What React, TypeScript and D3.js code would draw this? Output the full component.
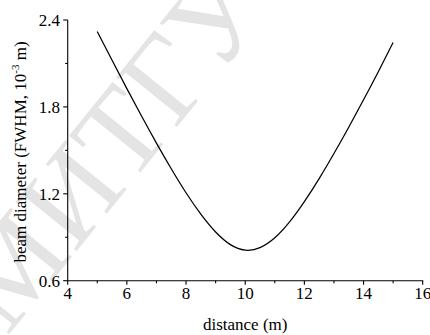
import React from "react";
import * as d3 from "d3";

const distance = [5, 5.5, 6, 6.5, 7, 7.5, 8, 8.5, 9, 9.5, 10, 10.5, 11, 11.5, 12, 12.5, 13, 13.5, 14, 14.5, 15];
const diameter = [2.32, 2.122, 1.926, 1.735, 1.55, 1.373, 1.207, 1.059, 0.936, 0.849, 0.811, 0.828, 0.896, 1.006, 1.146, 1.305, 1.478, 1.66, 1.849, 2.043, 2.245];
const xMajorTicks = [4, 6, 8, 10, 12, 14, 16];
const xMinorTicks = [5, 7, 9, 11, 13, 15];
const yMajorTicks = [0.6, 1.2, 1.8, 2.4];
const yMinorTicks = [0.9, 1.5, 2.1];
const watermark = "МИТГУ К";

const W = 430;
const H = 335;
const FONT = "'Liberation Serif', 'Times New Roman', serif";

export default function App() {
  const x = d3.scaleLinear().domain([4, 16]).range([67.7, 422.7]);
  const y = d3.scaleLinear().domain([0.6, 2.4]).range([280.7, 20]);
  const pts = distance.map((d, i) => [d, diameter[i]] as [number, number]);
  const line = d3
    .line<[number, number]>()
    .x((d) => x(d[0]))
    .y((d) => y(d[1]))
    .curve(d3.curveNatural);
  const x0 = x.range()[0];
  const y0 = y.range()[0];
  return (
    <svg
      width={W}
      height={H}
      style={{ position: "fixed", left: 0, top: 0, background: "#fff" }}
      fontFamily={FONT}
    >
      <rect width={W} height={H} fill="#fff" />
      <text
        transform="translate(7,337) rotate(-51)"
        fontSize={120}
        fill="#e4e4e4"
        fontFamily={FONT}
      >
        {watermark}
      </text>
      <path d={line(pts) || ""} fill="none" stroke="#000" strokeWidth={1.25} />
      <line x1={x0} x2={x.range()[1] + 0.5} y1={y0} y2={y0} stroke="#000" strokeWidth={1.1} />
      <line x1={x0} x2={x0} y1={y0} y2={y.range()[1]} stroke="#000" strokeWidth={1.1} />
      {xMajorTicks.map((t) => (
        <g key={"xm" + t}>
          <line x1={x(t)} x2={x(t)} y1={y0} y2={y0 + 4} stroke="#000" strokeWidth={1.1} />
          <text x={x(t)} y={299} textAnchor="middle" fontSize={17} fill="#000">
            {t}
          </text>
        </g>
      ))}
      {xMinorTicks.map((t) => (
        <line key={"xn" + t} x1={x(t)} x2={x(t)} y1={y0} y2={y0 + 2.5} stroke="#000" strokeWidth={1.1} />
      ))}
      {yMajorTicks.map((t) => (
        <g key={"ym" + t}>
          <line x1={x0 - 4.5} x2={x0} y1={y(t)} y2={y(t)} stroke="#000" strokeWidth={1.1} />
          <text x={60} y={y(t)} dy="0.35em" textAnchor="end" fontSize={17} fill="#000">
            {t.toFixed(1)}
          </text>
        </g>
      ))}
      {yMinorTicks.map((t) => (
        <line key={"yn" + t} x1={x0 - 2.5} x2={x0} y1={y(t)} y2={y(t)} stroke="#000" strokeWidth={1.1} />
      ))}
      <text x={x(10)} y={330} textAnchor="middle" fontSize={17} fill="#000">
        distance (m)
      </text>
      <text transform="translate(26,152) rotate(-90)" textAnchor="middle" fontSize={17} fill="#000">
        beam diameter (FWHM, 10
        <tspan fontSize={11} dy={-7}>-3</tspan>
        <tspan dy={7}> m)</tspan>
      </text>
    </svg>
  );
}
